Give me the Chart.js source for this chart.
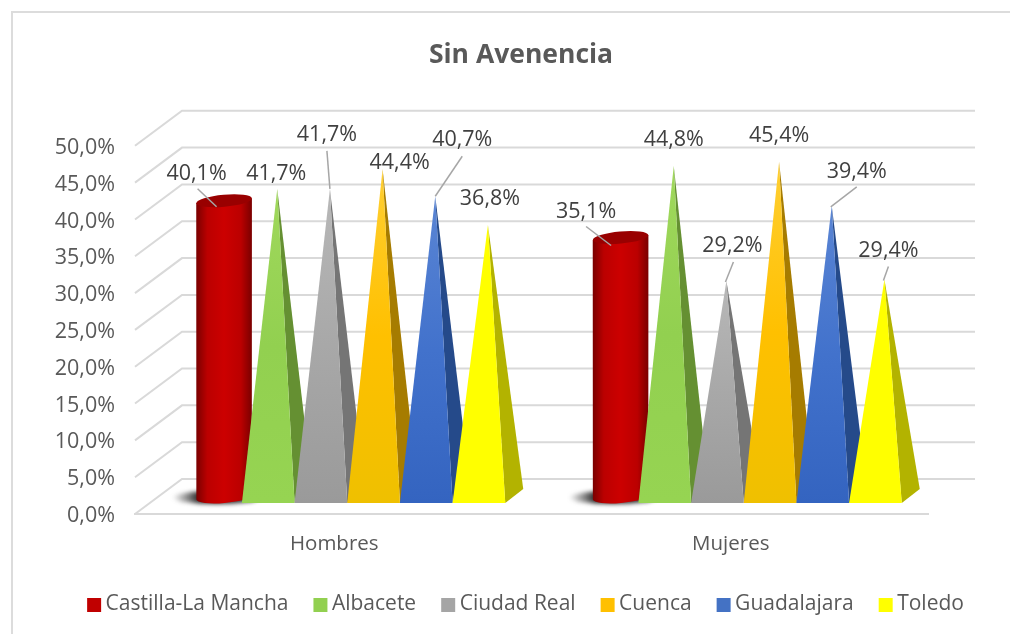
<!DOCTYPE html>
<html>
<head>
<meta charset="utf-8">
<style>html,body{margin:0;padding:0;background:#fff}canvas{display:block}</style>
<script src="https://cdn.jsdelivr.net/npm/chart.js@4"></script>
</head>
<body>
<canvas id="c" width="1010" height="634"></canvas>
<script>
const categories = ['Hombres', 'Mujeres'];
const seriesNames = ['Castilla-La Mancha', 'Albacete', 'Ciudad Real', 'Cuenca', 'Guadalajara', 'Toledo'];
const castilla = [40.1, 35.1];
const albacete = [41.7, 44.8];
const ciudadReal = [41.7, 29.2];
const cuenca = [44.4, 45.4];
const guadalajara = [40.7, 39.4];
const toledo = [36.8, 29.4];
const seriesValues = [castilla, albacete, ciudadReal, cuenca, guadalajara, toledo];

// Styling of the 3D faces
const legendColors = ['#c00000', '#92d050', '#a5a5a5', '#ffc000', '#4472c4', '#ffff00'];
const faceStops = [null,
  ['#a0d85c', '#92d050', '#96d452'],
  ['#b8b8b8', '#a8a8a8', '#9a9a9a'],
  ['#ffcf33', '#ffc000', '#efc000'],
  ['#5a85d4', '#4272cc', '#3464c0'],
  ['#ffff00', '#ffff00', '#ffff00']];
const sideColors = [null, '#659032', '#757575', '#a67c00', '#254a8a', '#b3b300'];

// Label placement relative to each mark's tip: [dx, dy, optional leader x1, y1, x2, y2]
const calloutOffsets = [
  [[-28, -29, -27, -12, -8, 6], [-35, -28, -35, -11, -10, 8]],
  [[-1, -17], [0, -28]],
  [[-3, -56, -3, -38, 0, 0], [6, -37, 7, -19, -1, 1]],
  [[17, -8], [0, -28]],
  [[27, -58, 27, -40, 0, 0], [25, -36, 25, -19, -1, 1]],
  [[2, -28], [4, -31, 4, -13, -1, 1]]
];

const FRONT_DX = 14, FRONT_DY = -11;   // bars' front plane relative to the axis plane
const BAR_DX = 18, BAR_DY = -14;       // bar depth
const WALL_DX = 47, WALL_DY = -35;     // wall depth
const GRID = '#d9d9d9';
const LABEL_BASELINE_SHIFT = 2;        // Open Sans sits high on a middle baseline

function fmt(v) { return v.toFixed(1).replace('.', ',') + '%'; }

// Legend swatch: a 14px square sitting left of a wider transparent image,
// so that the label text sits close to the swatch.
function swatch(color) {
  const cv = document.createElement('canvas');
  cv.width = 24; cv.height = 14;
  const c = cv.getContext('2d');
  c.fillStyle = color;
  c.fillRect(8, 0, 14, 14);
  return cv;
}

function drawCylinder(ctx, el, i) {
  const cx = el.x + FRONT_DX + BAR_DX / 2 - 0.5;
  const rx = el.width / 2 + 1.5, ry = 6, rot = -0.09;
  const topY = el.y + FRONT_DY + BAR_DY / 2;
  const botY = el.base + FRONT_DY + BAR_DY / 2 + 1;
  // floor shadow
  const sg = ctx.createLinearGradient(cx - rx - 24, 0, cx - rx + 2, 0);
  sg.addColorStop(0, 'rgba(70,70,70,0)');
  sg.addColorStop(1, 'rgba(45,45,45,1)');
  ctx.save();
  ctx.filter = 'blur(2px)';
  ctx.fillStyle = sg;
  ctx.beginPath();
  ctx.ellipse(cx - 8, botY + 0.5, rx + 16, 6.5, 0, 0, Math.PI * 2);
  ctx.fill();
  ctx.restore();
  // body
  const g = ctx.createLinearGradient(cx - rx, 0, cx + rx, 0);
  g.addColorStop(0, '#7a0000');
  g.addColorStop(0.2, '#bb0000');
  g.addColorStop(0.5, '#cc0000');
  g.addColorStop(0.8, '#bb0000');
  g.addColorStop(1, '#7a0000');
  ctx.fillStyle = g;
  ctx.beginPath();
  ctx.ellipse(cx, botY, rx, ry, rot, 0, Math.PI);
  ctx.lineTo(cx - rx, topY + 2.5);
  ctx.lineTo(cx + rx, topY - 2.5);
  ctx.closePath();
  ctx.fill();
  // cap
  ctx.fillStyle = '#990000';
  ctx.beginPath();
  ctx.ellipse(cx, topY, rx, ry, rot, 0, Math.PI * 2);
  ctx.fill();
}

function drawPyramid(ctx, el, i) {
  const x0 = el.x - el.width / 2 + FRONT_DX, x1 = el.x + el.width / 2 + FRONT_DX;
  const by = el.base + FRONT_DY;
  const tx = el.x + FRONT_DX + BAR_DX / 2, ty = el.y + FRONT_DY + BAR_DY / 2;
  ctx.fillStyle = sideColors[i];
  ctx.beginPath();
  ctx.moveTo(x1, by);
  ctx.lineTo(x1 + BAR_DX, by + BAR_DY);
  ctx.lineTo(tx, ty);
  ctx.closePath();
  ctx.fill();
  const g = ctx.createLinearGradient(0, ty, 0, by);
  const s = faceStops[i];
  g.addColorStop(0, s[0]); g.addColorStop(0.5, s[1]); g.addColorStop(1, s[2]);
  ctx.fillStyle = g;
  ctx.beginPath();
  ctx.moveTo(x0, by);
  ctx.lineTo(x1, by);
  ctx.lineTo(tx, ty);
  ctx.closePath();
  ctx.fill();
}

const scene = {
  id: 'scene',
  afterLayout(chart) {
    chart.legend.left += 9;
    chart.legend.top -= 9;
  },
  beforeDraw(chart) {
    const ctx = chart.ctx, y = chart.scales.y, a = chart.chartArea;
    ctx.save();
    ctx.fillStyle = '#fff';
    ctx.fillRect(0, 0, chart.width, chart.height);
    ctx.strokeStyle = '#dcdcdc';
    ctx.lineWidth = 2;
    ctx.strokeRect(12, 12, 1040, 660);
    // walls
    ctx.strokeStyle = GRID;
    ctx.lineWidth = 2;
    y.ticks.forEach(t => {
      const py = y.getPixelForValue(t.value);
      ctx.beginPath();
      ctx.moveTo(a.left, py);
      ctx.lineTo(a.left + WALL_DX, py + WALL_DY);
      ctx.lineTo(a.right + WALL_DX, py + WALL_DY);
      ctx.stroke();
    });
    ctx.restore();
  },
  beforeDatasetsDraw(chart) {
    const ctx = chart.ctx;
    ctx.save();
    categories.forEach((c, j) => {
      seriesValues.forEach((s, i) => {
        const el = chart.getDatasetMeta(i).data[j];
        if (i === 0) drawCylinder(ctx, el, i); else drawPyramid(ctx, el, i);
      });
    });
    ctx.font = '21.5px "Open Sans"';
    ctx.textAlign = 'center';
    ctx.textBaseline = 'middle';
    categories.forEach((c, j) => {
      seriesValues.forEach((s, i) => {
        const el = chart.getDatasetMeta(i).data[j];
        const tx = el.x + FRONT_DX + BAR_DX / 2, ty = el.y + FRONT_DY + BAR_DY / 2;
        const o = calloutOffsets[i][j];
        if (o.length > 2) {
          ctx.strokeStyle = '#a6a6a6';
          ctx.lineWidth = 1.5;
          ctx.beginPath();
          ctx.moveTo(tx + o[2], ty + o[3]);
          ctx.lineTo(tx + o[4], ty + o[5]);
          ctx.stroke();
        }
        ctx.fillStyle = '#404040';
        ctx.fillText(fmt(s[j]), tx + o[0], ty + o[1] + LABEL_BASELINE_SHIFT);
      });
    });
    ctx.restore();
    return false;
  }
};

new Chart(document.getElementById('c'), {
  type: 'bar',
  plugins: [scene],
  data: {
    labels: categories,
    datasets: seriesNames.map((n, i) => ({
      label: n,
      data: seriesValues[i],
      backgroundColor: legendColors[i],
      categoryPercentage: 0.797,
      barPercentage: 1
    }))
  },
  options: {
    responsive: false,
    animation: false,
    layout: { padding: { left: 32, right: 0, top: 0, bottom: 0 } },
    plugins: {
      tooltip: { enabled: false },
      title: {
        display: true,
        text: 'Sin Avenencia',
        color: '#595959',
        font: { family: '"Open Sans"', size: 26.5, weight: 'bold' },
        padding: { top: 40, bottom: 74 }
      },
      legend: {
        position: 'bottom',
        labels: {
          usePointStyle: true,
          pointStyleWidth: 8,
          boxHeight: 14,
          color: '#595959',
          font: { family: '"Open Sans"', size: 21 },
          padding: 25,
          generateLabels(chart) {
            return Chart.defaults.plugins.legend.labels.generateLabels(chart).map((it, i) => {
              it.pointStyle = swatch(legendColors[i]);
              return it;
            });
          }
        }
      }
    },
    scales: {
      x: {
        afterFit(s) { s.height = 64; },
        grid: { display: false, drawTicks: false },
        border: { display: true, color: GRID, width: 2 },
        ticks: { color: '#595959', padding: 18, labelOffset: 1, font: { family: '"Open Sans"', size: 20.5 } }
      },
      y: {
        min: 0, max: 50,
        afterFit(s) { s.width = 103; },
        grid: { display: false, drawTicks: false },
        border: { display: false },
        ticks: {
          stepSize: 5,
          color: '#595959',
          padding: 20,
          labelOffset: 2,
          font: { family: '"Open Sans"', size: 21.5 },
          callback: v => fmt(v)
        }
      },
      pad: {
        position: 'right', display: true,
        afterFit(s) { s.width = 82; },
        grid: { display: false, drawTicks: false },
        border: { display: false },
        ticks: { display: false }
      }
    }
  }
});
</script>
</body>
</html>
